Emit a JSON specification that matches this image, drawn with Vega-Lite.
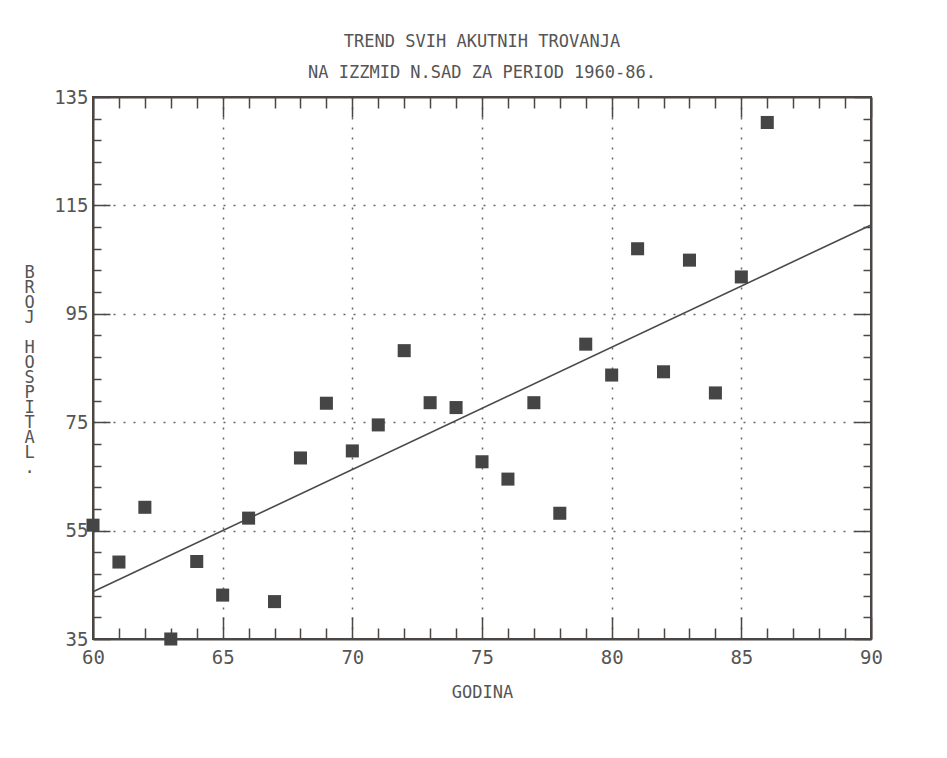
{
  "$schema": "https://vega.github.io/schema/vega-lite/v6.json",
  "width": 778,
  "height": 542,
  "autosize": "none",
  "padding": {"left": 93, "top": 97, "right": 76, "bottom": 119},
  "background": "white",
  "config": {
    "view": {"stroke": "#4a4744", "strokeWidth": 2},
    "font": "DejaVu Sans Mono"
  },
  "title": {
    "text": ["TREND SVIH AKUTNIH TROVANJA", "NA IZZMID N.SAD ZA PERIOD 1960-86."],
    "font": "DejaVu Sans Mono",
    "fontSize": 17,
    "fontWeight": "normal",
    "color": "#555555",
    "lineHeight": 31,
    "anchor": "middle",
    "baseline": "bottom",
    "offset": -11
  },
  "datasets": {
    "points": [
      {"godina": 60, "broj": 56.0},
      {"godina": 61, "broj": 49.2},
      {"godina": 62, "broj": 59.3},
      {"godina": 63, "broj": 35.0},
      {"godina": 64, "broj": 49.3},
      {"godina": 65, "broj": 43.1},
      {"godina": 66, "broj": 57.3},
      {"godina": 67, "broj": 41.9},
      {"godina": 68, "broj": 68.4},
      {"godina": 69, "broj": 78.5},
      {"godina": 70, "broj": 69.7},
      {"godina": 71, "broj": 74.5},
      {"godina": 72, "broj": 88.2},
      {"godina": 73, "broj": 78.6},
      {"godina": 74, "broj": 77.7},
      {"godina": 75, "broj": 67.7},
      {"godina": 76, "broj": 64.5},
      {"godina": 77, "broj": 78.6},
      {"godina": 78, "broj": 58.2},
      {"godina": 79, "broj": 89.4},
      {"godina": 80, "broj": 83.7},
      {"godina": 81, "broj": 107.0},
      {"godina": 82, "broj": 84.3},
      {"godina": 83, "broj": 104.9},
      {"godina": 84, "broj": 80.4},
      {"godina": 85, "broj": 101.8},
      {"godina": 86, "broj": 130.3}
    ],
    "trend": [
      {"godina": 60, "broj": 43.7},
      {"godina": 90, "broj": 111.4}
    ]
  },
  "layer": [
    {
      "data": {"name": "trend"},
      "mark": {"type": "line", "color": "#4a4a4a", "strokeWidth": 1.6},
      "encoding": {
        "x": {
          "field": "godina", "type": "quantitative",
          "scale": {"domain": [60, 90], "nice": false, "zero": false},
          "axis": {
            "orient": "bottom",
            "values": [60,61,62,63,64,65,66,67,68,69,70,71,72,73,74,75,76,77,78,79,80,81,82,83,84,85,86,87,88,89,90],
            "title": "GODINA",
            "labelExpr": "datum.value % 5 === 0 ? datum.label : ''",
            "tickSize": {"condition": {"test": "datum.value % 5 === 0", "value": -22}, "value": -11},
            "grid": true,
            "gridOpacity": {"condition": {"test": "datum.value % 5 === 0 && datum.value > 60 && datum.value < 90", "value": 1}, "value": 0},
            "gridDash": [2, 8],
            "gridColor": "#666666",
            "gridWidth": 1.5,
            "domainColor": "#4a4744",
            "domainWidth": 2,
            "tickColor": "#4a4744",
            "tickWidth": 1.5,
            "labelFont": "DejaVu Sans Mono",
            "labelFontSize": 19,
            "labelColor": "#555555",
            "labelPadding": 31,
            "labelFlush": false,
            "labelOverlap": false,
            "titleFont": "DejaVu Sans Mono",
            "titleFontSize": 17,
            "titleFontWeight": "normal",
            "titleColor": "#555555",
            "titlePadding": 6
          }
        },
        "y": {
          "field": "broj", "type": "quantitative",
          "scale": {"domain": [35, 135], "nice": false, "zero": false},
          "axis": {
            "orient": "left",
            "values": [35,39,43,47,51,55,59,63,67,71,75,79,83,87,91,95,99,103,107,111,115,119,123,127,131,135],
            "title": ["B","R","O","J","\u2800","H","O","S","P","I","T","A","L","."],
            "titleAngle": 0,
            "titleAlign": "center",
            "titleBaseline": "top",
            "titleX": -64,
            "titleY": 167,
            "titleLineHeight": 15,
            "titleFont": "DejaVu Sans Mono",
            "titleFontSize": 17,
            "titleFontWeight": "normal",
            "titleColor": "#555555",
            "labelExpr": "(datum.value - 35) % 20 === 0 ? datum.label : ''",
            "tickSize": {"condition": {"test": "(datum.value - 35) % 20 === 0", "value": -17}, "value": -8},
            "grid": true,
            "gridOpacity": {"condition": {"test": "(datum.value - 35) % 20 === 0 && datum.value > 35 && datum.value < 135", "value": 1}, "value": 0},
            "gridDash": [2, 8],
            "gridColor": "#666666",
            "gridWidth": 1.5,
            "domainColor": "#4a4744",
            "domainWidth": 2,
            "tickColor": "#4a4744",
            "tickWidth": 1.5,
            "labelFont": "DejaVu Sans Mono",
            "labelFontSize": 19,
            "labelColor": "#555555",
            "labelPadding": 22,
            "labelFlush": false,
            "labelOverlap": false
          }
        }
      }
    },
    {
      "data": {"name": "points"},
      "mark": {"type": "square", "size": 170, "color": "#454545", "opacity": 1, "filled": true},
      "encoding": {
        "x": {
          "field": "godina", "type": "quantitative",
          "scale": {"domain": [60, 90], "nice": false, "zero": false},
          "axis": {
            "orient": "top",
            "values": [60,61,62,63,64,65,66,67,68,69,70,71,72,73,74,75,76,77,78,79,80,81,82,83,84,85,86,87,88,89,90],
            "title": null,
            "labels": false,
            "grid": false,
            "tickSize": {"condition": {"test": "datum.value % 5 === 0", "value": -20}, "value": -11},
            "domainColor": "#4a4744",
            "domainWidth": 2,
            "tickColor": "#4a4744",
            "tickWidth": 1.5
          }
        },
        "y": {
          "field": "broj", "type": "quantitative",
          "scale": {"domain": [35, 135], "nice": false, "zero": false},
          "axis": {
            "orient": "right",
            "values": [35,39,43,47,51,55,59,63,67,71,75,79,83,87,91,95,99,103,107,111,115,119,123,127,131,135],
            "title": null,
            "labels": false,
            "grid": false,
            "tickSize": {"condition": {"test": "(datum.value - 35) % 20 === 0", "value": -17}, "value": -8},
            "domainColor": "#4a4744",
            "domainWidth": 2,
            "tickColor": "#4a4744",
            "tickWidth": 1.5
          }
        }
      }
    }
  ],
  "resolve": {"axis": {"x": "independent", "y": "independent"}}
}
